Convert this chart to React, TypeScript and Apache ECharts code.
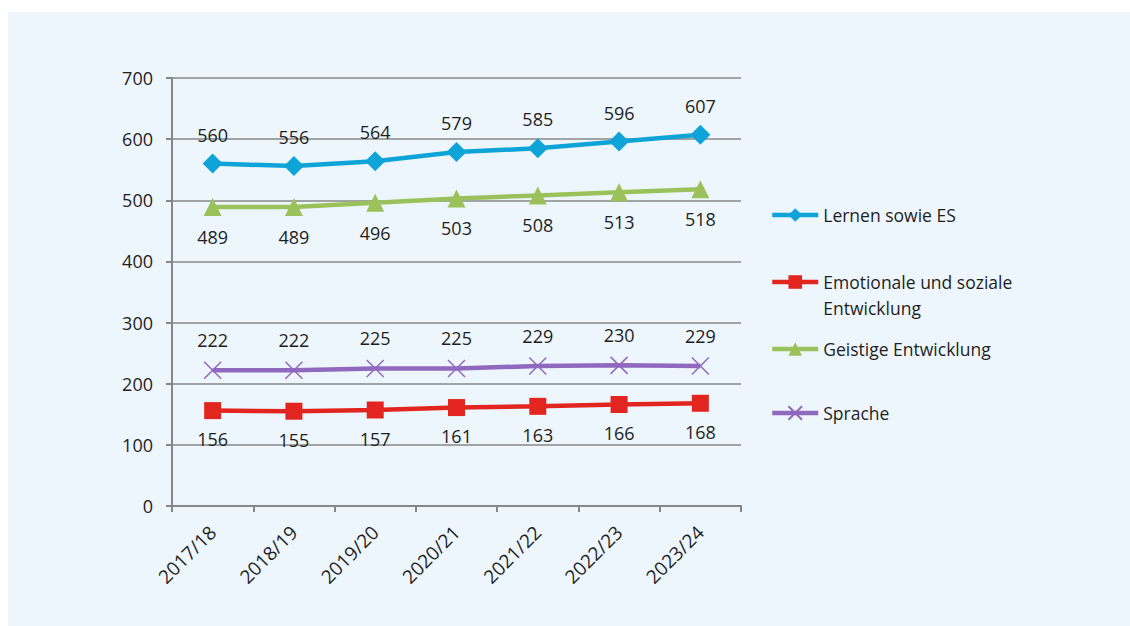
import React, { useEffect, useRef } from "react";
import * as echarts from "echarts";

const categories = ["2017/18", "2018/19", "2019/20", "2020/21", "2021/22", "2022/23", "2023/24"];
const lernenValues = [560, 556, 564, 579, 585, 596, 607];
const emotionalValues = [156, 155, 157, 161, 163, 166, 168];
const geistigValues = [489, 489, 496, 503, 508, 513, 518];
const spracheValues = [222, 222, 225, 225, 229, 230, 229];
const seriesNames = ["Lernen sowie ES", "Emotionale und soziale\nEntwicklung", "Geistige Entwicklung", "Sprache"];
const yMin = 0;
const yMax = 700;
const yInterval = 100;

const FONT = "Open Sans";
const TEXT = "#1e1e1e";
const AXIS = "#878787";
const BLUE = "#0fa4d8";
const RED = "#e2261f";
const GREEN = "#9bc25a";
const PURPLE = "#9068be";

const crossPath = "path://M0,0L10,10M10,0L0,10";

export default function App() {
  const ref = useRef<HTMLDivElement>(null);
  useEffect(() => {
    if (!ref.current) return;
    const chart = echarts.init(ref.current, undefined, { renderer: "svg" });
    const labelBase = { show: true, fontFamily: FONT, fontSize: 18, color: TEXT };
    const mkLegend = (name: string, top: number, formatter?: any) => ({
      show: true,
      orient: "vertical",
      left: 770,
      top,
      padding: 0,
      data: [name],
      itemWidth: 46,
      itemHeight: 17,
      selectedMode: false,
      lineStyle: { width: 4.5 },
      ...(formatter ? { formatter } : {}),
      textStyle: { fontFamily: FONT, fontSize: 17.5, color: TEXT, lineHeight: 26 },
    });
    chart.setOption({
      animation: false,
      backgroundColor: "#ffffff",
      graphic: [
        { type: "rect", shape: { x: 8, y: 12, width: 1122, height: 614 }, style: { fill: "#eef6fd" }, z: -10 },
      ],
      grid: { left: 172, top: 78, width: 569, height: 428 },
      legend: [
        mkLegend(seriesNames[0], 215 - 13),
        mkLegend(seriesNames[1], 282 - 39, (n: string) => "\n" + n),
        mkLegend(seriesNames[2], 349 - 13),
        mkLegend(seriesNames[3], 413 - 13),
      ],
      xAxis: {
        type: "category",
        data: categories,
        boundaryGap: true,
        axisLine: { lineStyle: { color: AXIS, width: 2 } },
        axisTick: { show: true, length: 6, lineStyle: { color: AXIS, width: 2 } },
        axisLabel: { rotate: 45, fontFamily: FONT, fontSize: 19, color: TEXT, margin: 23, verticalAlign: "middle" },
      },
      yAxis: {
        type: "value",
        min: yMin,
        max: yMax,
        interval: yInterval,
        axisLine: { show: true, lineStyle: { color: AXIS, width: 2 } },
        axisTick: { show: true, length: 6, lineStyle: { color: AXIS, width: 2 } },
        splitLine: { show: true, lineStyle: { color: AXIS, width: 1.5 } },
        axisLabel: { fontFamily: FONT, fontSize: 18, color: TEXT, margin: 19 },
      },
      series: [
        {
          name: seriesNames[0],
          type: "line",
          data: lernenValues,
          symbol: "diamond",
          symbolSize: 20,
          lineStyle: { color: BLUE, width: 4.5 },
          itemStyle: { color: BLUE },
          label: { ...labelBase, position: "top", distance: 10 },
          z: 4,
        },
        {
          name: seriesNames[1],
          type: "line",
          data: emotionalValues,
          symbol: "rect",
          symbolSize: 17,
          lineStyle: { color: RED, width: 4.5 },
          itemStyle: { color: RED },
          label: { ...labelBase, position: "bottom", distance: 11 },
          z: 3,
        },
        {
          name: seriesNames[2],
          type: "line",
          data: geistigValues,
          symbol: "triangle",
          symbolSize: 18,
          lineStyle: { color: GREEN, width: 4.5 },
          itemStyle: { color: GREEN },
          label: { ...labelBase, position: "bottom", distance: 12 },
          z: 3,
        },
        {
          name: seriesNames[3],
          type: "line",
          data: spracheValues,
          symbol: crossPath,
          symbolSize: 17,
          lineStyle: { color: PURPLE, width: 4.5 },
          itemStyle: { color: PURPLE, borderColor: PURPLE, borderWidth: 1.5 },
          label: { ...labelBase, position: "top", distance: 12 },
          z: 3,
        },
      ],
    });
    return () => chart.dispose();
  }, []);
  return (
    <div
      ref={ref}
      style={{ position: "absolute", left: 0, top: 0, width: 1130, height: 626 }}
    />
  );
}
